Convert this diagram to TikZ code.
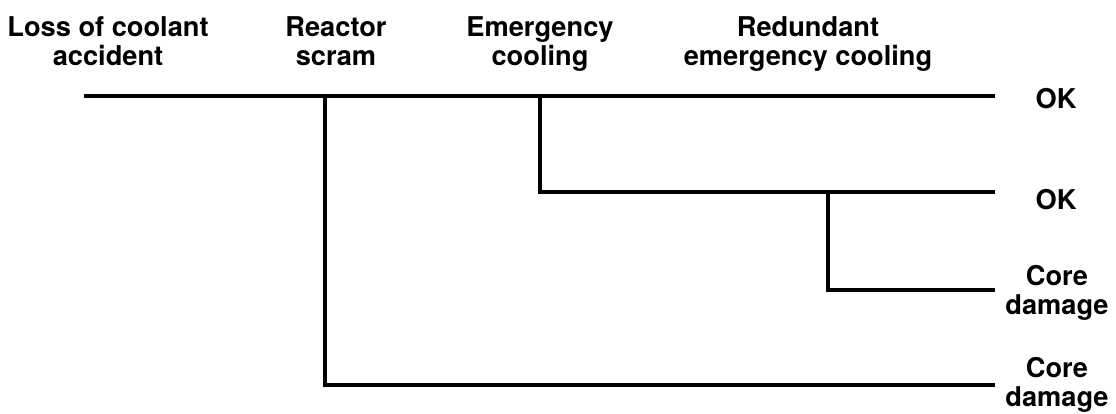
\documentclass[tikz,border=0pt]{standalone}
\usepackage{fontspec}
\setmainfont{TeX Gyre Heros}
\usetikzlibrary{positioning,calc}

\begin{document}
\begin{tikzpicture}[x=0.02cm,y=-0.02cm,
  hd/.style={font=\fontsize{15.5}{16.5}\selectfont\bfseries,align=center,
             inner sep=0pt,anchor=north},
  res/.style={font=\fontsize{15.5}{16.5}\selectfont\bfseries,align=center,
              inner sep=0pt},
  br/.style={line width=2.4pt}]
\useasboundingbox (0,0) rectangle (1116,413);
\node[hd] (loca) at (108,16) {Loss of coolant\\accident};
\node[hd] (scram) at (336,16) {Reactor\\scram};
\node[hd] (ecc) at (540,16) {Emergency\\cooling};
\node[hd] (recc) at (808,16) {Redundant\\emergency cooling};
\node[res] (ok1) at (1056,99) {OK};
\node[res] (ok2) at (1056,200) {OK};
\node[res,anchor=north] (cd1) at (1057,265) {Core\\damage};
\node[res,anchor=north] (cd2) at (1057,357) {Core\\damage};
\coordinate (s) at (84,96);
\coordinate (j1) at (325,96);
\coordinate (j2) at (540,96);
\coordinate (j3) at (828,192);
\coordinate (e1) at (995,96);
\coordinate (e2) at (995,192);
\coordinate (e3) at (995,290);
\coordinate (e4) at (995,385);
\draw[br] (s) -- (e1);
\draw[br] (j2) |- (e2);
\draw[br] (j3) |- (e3);
\draw[br] (j1) |- (e4);
\end{tikzpicture}
\end{document}
